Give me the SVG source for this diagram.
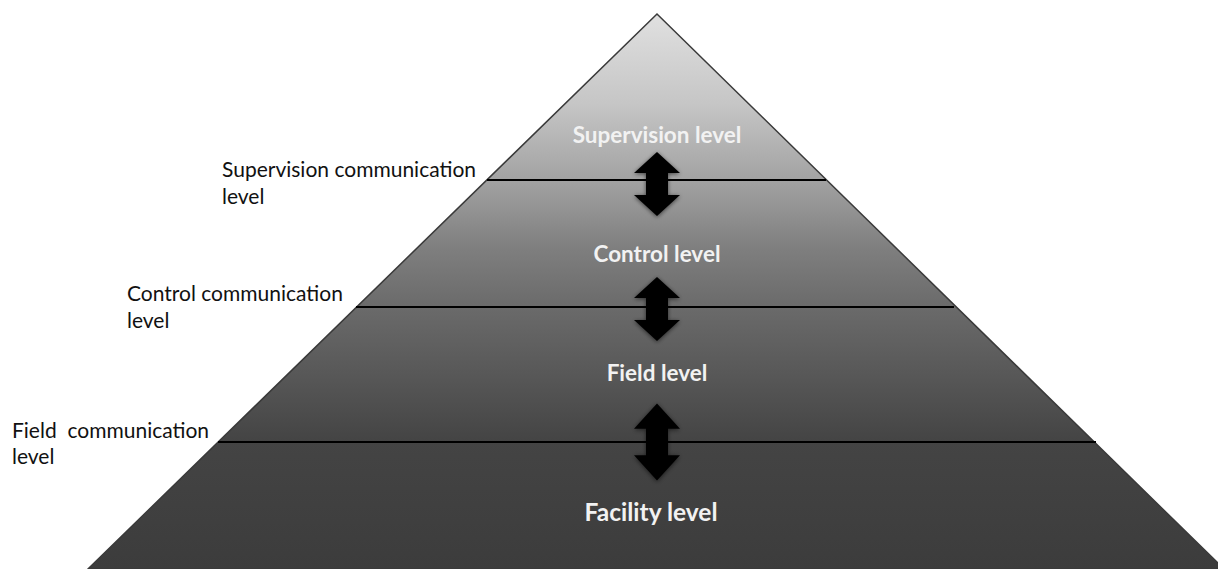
<svg xmlns="http://www.w3.org/2000/svg" width="1218" height="569" viewBox="0 0 1218 569">
<defs>
<linearGradient id="g" gradientUnits="userSpaceOnUse" x1="0" y1="14" x2="0" y2="569">
<stop offset="0" stop-color="#e0e0e0"/>
<stop offset="0.16" stop-color="#c6c6c6"/>
<stop offset="0.3" stop-color="#a2a2a2"/>
<stop offset="0.42" stop-color="#7f7f7f"/>
<stop offset="0.53" stop-color="#6a6a6a"/>
<stop offset="0.66" stop-color="#565656"/>
<stop offset="0.77" stop-color="#444444"/>
<stop offset="1" stop-color="#3c3c3c"/>
</linearGradient>
<filter id="sh" x="-30%" y="-30%" width="160%" height="160%">
<feGaussianBlur in="SourceAlpha" stdDeviation="2"/>
<feOffset dx="0" dy="1"/>
<feComponentTransfer><feFuncA type="linear" slope="0.6"/></feComponentTransfer>
<feMerge><feMergeNode/><feMergeNode in="SourceGraphic"/></feMerge>
</filter>
<path id="arr" d="M0,-32 L23,-11 L11,-11 L11,11 L23,11 L0,32 L-23,11 L-11,11 L-11,-11 L-23,-11 Z"/>
</defs>
<style>
.lvl{font-family:Lato,"Open Sans",sans-serif;font-weight:bold;fill:#f2f2f2;text-anchor:middle;}
.side{font-family:Lato,"Open Sans",sans-serif;font-size:21px;fill:#111;}
.sep{stroke:#000;stroke-width:2;}
.arrow{fill:#000;filter:url(#sh);}
</style>
<rect width="1218" height="569" fill="#fff"/>
<g id="pyramid">
<polygon points="657,14 88,569 1224,569" fill="url(#g)" stroke="#3a3a3a" stroke-width="1.5"/>
</g>
<g id="separators">
<line class="sep" x1="487" y1="180" x2="826" y2="180"/>
<line class="sep" x1="356" y1="307" x2="954" y2="307"/>
<line class="sep" x1="218" y1="442" x2="1096" y2="442"/>
</g>
<g id="connectors">
<use href="#arr" class="arrow" transform="translate(657,184)"/>
<use href="#arr" class="arrow" transform="translate(657,309)"/>
<use href="#arr" class="arrow" transform="translate(657,442) scale(1,1.2)"/>
</g>
<g id="supervision-level"><text class="lvl" x="657" y="143" font-size="22.5">Supervision level</text></g>
<g id="control-level"><text class="lvl" x="657" y="262" font-size="22.5">Control level</text></g>
<g id="field-level"><text class="lvl" x="657" y="381" font-size="22.5">Field level</text></g>
<g id="facility-level"><text class="lvl" x="651" y="521" font-size="24.5">Facility level</text></g>
<g id="supervision-comm">
<text class="side" x="222" y="177">Supervision communication</text>
<text class="side" x="222" y="204">level</text>
</g>
<g id="control-comm">
<text class="side" x="127" y="301">Control communication</text>
<text class="side" x="127" y="328">level</text>
</g>
<g id="field-comm">
<text class="side" x="12" y="438" xml:space="preserve">Field  communication</text>
<text class="side" x="12" y="464">level</text>
</g>
</svg>
